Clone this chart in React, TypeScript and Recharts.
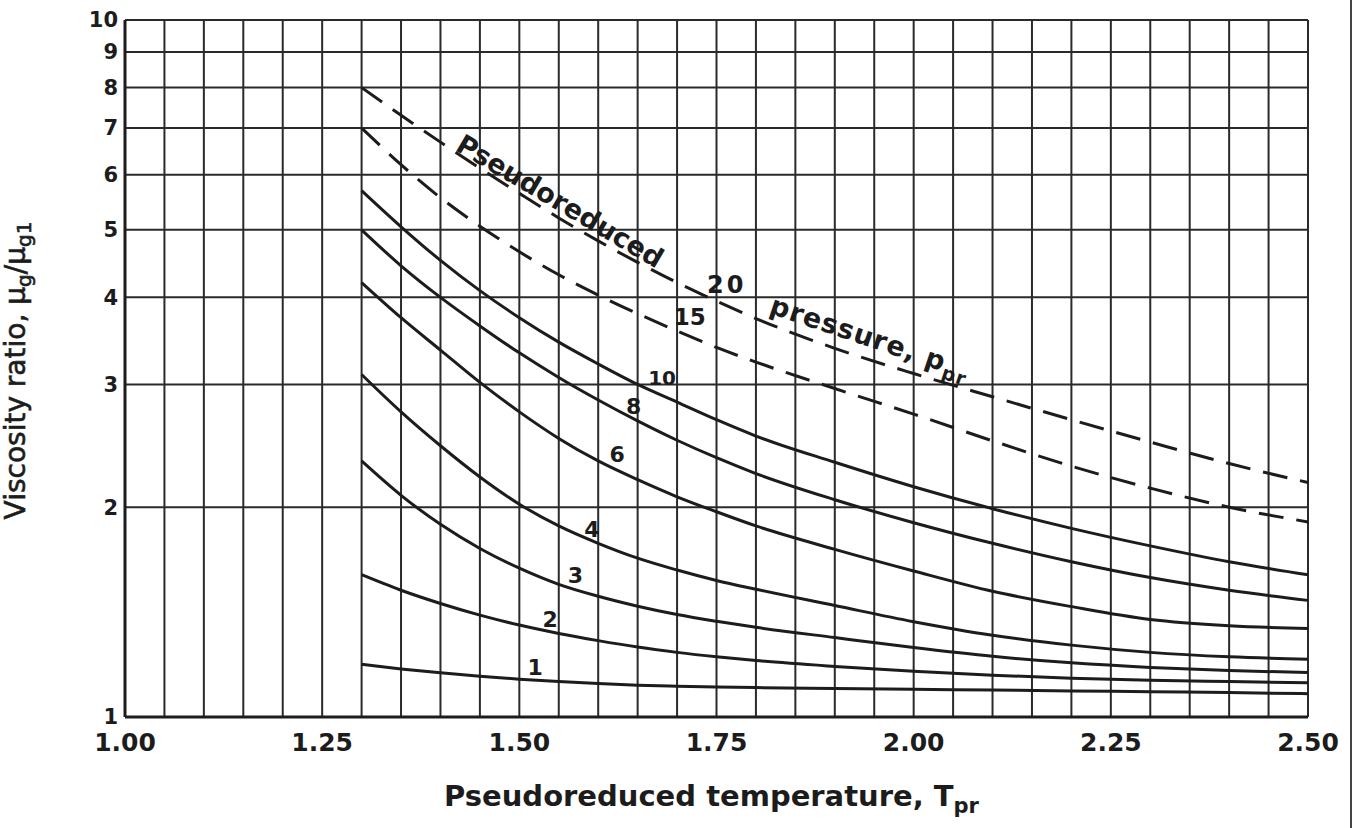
import React from 'react';
import {
  LineChart,
  Line,
  XAxis,
  YAxis,
  CartesianGrid,
  ReferenceDot,
  Label,
} from 'recharts';

const FONT = '"DejaVu Sans", "Liberation Sans", Arial, sans-serif';
const INK = '#1c1c1c';

// pseudoreduced temperature where the curves are sampled
const temps = [1.3, 1.35, 1.4, 1.45, 1.5, 1.55, 1.6, 1.65, 1.7, 1.75, 1.8, 1.9, 2.0, 2.1, 2.2, 2.3, 2.4, 2.5];

// viscosity ratio, one list per pseudoreduced pressure
const p1 = [1.19, 1.172, 1.157, 1.144, 1.133, 1.124, 1.117, 1.111, 1.107, 1.104, 1.102, 1.099, 1.096, 1.093, 1.09, 1.087, 1.084, 1.08];
const p2 = [1.6, 1.52, 1.455, 1.4, 1.355, 1.318, 1.287, 1.26, 1.238, 1.22, 1.205, 1.182, 1.163, 1.148, 1.137, 1.129, 1.124, 1.12];
const p3 = [2.33, 2.08, 1.89, 1.745, 1.635, 1.55, 1.49, 1.442, 1.403, 1.372, 1.345, 1.3, 1.258, 1.222, 1.196, 1.178, 1.166, 1.158];
const p4 = [3.1, 2.74, 2.45, 2.21, 2.02, 1.88, 1.775, 1.69, 1.625, 1.57, 1.525, 1.445, 1.37, 1.31, 1.268, 1.238, 1.22, 1.21];
const p6 = [4.2, 3.74, 3.36, 3.02, 2.74, 2.51, 2.33, 2.19, 2.07, 1.97, 1.88, 1.74, 1.62, 1.515, 1.44, 1.38, 1.352, 1.34];
const p8 = [5.0, 4.44, 4.0, 3.64, 3.33, 3.07, 2.85, 2.66, 2.495, 2.355, 2.235, 2.05, 1.9, 1.775, 1.67, 1.585, 1.52, 1.47];
const p10 = [5.69, 5.05, 4.52, 4.09, 3.74, 3.45, 3.21, 3.0, 2.83, 2.67, 2.53, 2.32, 2.14, 1.99, 1.865, 1.76, 1.67, 1.6];
const p15 = [7.0, 6.2, 5.56, 5.06, 4.65, 4.31, 4.03, 3.79, 3.58, 3.39, 3.23, 2.96, 2.72, 2.49, 2.29, 2.13, 2.0, 1.905];
const p20 = [8.0, 7.3, 6.68, 6.13, 5.64, 5.2, 4.82, 4.49, 4.2, 3.95, 3.73, 3.38, 3.11, 2.88, 2.67, 2.48, 2.31, 2.17];

const solidKeys = ['p1', 'p2', 'p3', 'p4', 'p6', 'p8', 'p10'];
const dashedKeys = ['p15', 'p20'];

// grid lines every 0.05, labels every 0.25
const xTicks = [
  1.0, 1.05, 1.1, 1.15, 1.2, 1.25, 1.3, 1.35, 1.4, 1.45, 1.5, 1.55, 1.6, 1.65, 1.7, 1.75,
  1.8, 1.85, 1.9, 1.95, 2.0, 2.05, 2.1, 2.15, 2.2, 2.25, 2.3, 2.35, 2.4, 2.45, 2.5,
];
const xLabels = ['1.00', '1.25', '1.50', '1.75', '2.00', '2.25', '2.50'];
const yTicks = [1, 2, 3, 4, 5, 6, 7, 8, 9, 10];

// curve numbers, placed in data space
const curveLabels = [
  { t: 1.52, v: 1.18, text: '1', size: 22 },
  { t: 1.539, v: 1.38, text: '2', size: 22 },
  { t: 1.571, v: 1.6, text: '3', size: 22 },
  { t: 1.592, v: 1.86, text: '4', size: 22 },
  { t: 1.624, v: 2.38, text: '6', size: 22 },
  { t: 1.645, v: 2.79, text: '8', size: 22 },
  { t: 1.681, v: 3.07, text: '10', size: 20 },
  { t: 1.716, v: 3.75, text: '15', size: 23 },
  { t: 1.763, v: 4.18, text: '20', size: 24 },
];

const data = temps.map((t, i) => ({
  t,
  p1: p1[i],
  p2: p2[i],
  p3: p3[i],
  p4: p4[i],
  p6: p6[i],
  p8: p8[i],
  p10: p10[i],
  p15: p15[i],
  p20: p20[i],
}));

const centre = (vb: any) => ({ x: vb.x + vb.width / 2, y: vb.y + vb.height / 2 });

function NumberLabel({ viewBox, text, size }: any) {
  const c = centre(viewBox);
  return (
    <text
      x={c.x}
      y={c.y}
      dy="0.36em"
      textAnchor="middle"
      fontFamily={FONT}
      fontWeight="bold"
      fontSize={size}
      letterSpacing={text === '20' ? 3 : 0}
      fill={INK}
    >
      {text}
    </text>
  );
}

function PseudoLabel({ viewBox }: any) {
  const c = centre(viewBox);
  return (
    <text
      x={c.x}
      y={c.y}
      dy="0.36em"
      textAnchor="middle"
      fontFamily={FONT}
      fontWeight="bold"
      fontSize={27}
      fill={INK}
      transform={`rotate(30.5 ${c.x} ${c.y})`}
    >
      Pseudoreduced
    </text>
  );
}

function PressureLabel({ viewBox }: any) {
  const c = centre(viewBox);
  return (
    <text
      x={c.x}
      y={c.y}
      dy="0.36em"
      textAnchor="middle"
      fontFamily={FONT}
      fontWeight="bold"
      fontSize={27}
      letterSpacing={1}
      fill={INK}
      transform={`rotate(18.5 ${c.x} ${c.y})`}
    >
      pressure, p
      <tspan fontSize={19} dy={7}>pr</tspan>
    </text>
  );
}

function XTitle({ viewBox }: any) {
  const x = viewBox.x + viewBox.width / 2 - 5;
  const y = viewBox.y + 89;
  return (
    <text x={x} y={y} textAnchor="middle" fontFamily={FONT} fontWeight="bold" fontSize={29} fill={INK}>
      Pseudoreduced temperature, T
      <tspan fontSize={21} dy={7}>pr</tspan>
    </text>
  );
}

function YTitle({ viewBox }: any) {
  const x = 25;
  const y = viewBox.y + viewBox.height / 2 + 2;
  return (
    <text
      x={x}
      y={y}
      textAnchor="middle"
      fontFamily={FONT}
      fontSize={28}
      fill={INK}
      stroke={INK}
      strokeWidth={0.6}
      transform={`rotate(-90 ${x} ${y})`}
    >
      Viscosity ratio, μ
      <tspan fontSize={20} dy={6}>g</tspan>
      <tspan dy={-6}>/μ</tspan>
      <tspan fontSize={20} dy={6}>g1</tspan>
    </text>
  );
}

const xFormat = (v: number) => {
  const s = v.toFixed(2);
  return xLabels.includes(s) ? s : '';
};

export default function App() {
  return (
    <div style={{ position: 'absolute', left: 0, top: 0, width: 1359, height: 828, background: '#fff' }}>
      <LineChart
        width={1359}
        height={828}
        data={data}
        margin={{ top: 20, right: 51, bottom: 0, left: 0 }}
      >
        <CartesianGrid stroke="#2a2a2a" strokeWidth={2} horizontalValues={yTicks} verticalValues={xTicks} />
        <XAxis
          dataKey="t"
          type="number"
          domain={[1, 2.5]}
          ticks={xTicks}
          interval={0}
          tickFormatter={xFormat}
          height={111}
          tickSize={0}
          tickMargin={16}
          axisLine={{ stroke: INK, strokeWidth: 3 }}
          tick={{ fontFamily: FONT, fontWeight: 'bold', fontSize: 25, fill: INK }}
        >
          <Label content={<XTitle />} />
        </XAxis>
        <YAxis
          type="number"
          scale="log"
          domain={[1, 10]}
          ticks={yTicks}
          interval={0}
          allowDataOverflow
          width={125}
          tickSize={0}
          tickMargin={7}
          axisLine={{ stroke: INK, strokeWidth: 3 }}
          tick={{ fontFamily: FONT, fontWeight: 'bold', fontSize: 21, fill: INK }}
        >
          <Label content={<YTitle />} />
        </YAxis>
        {solidKeys.map((k) => (
          <Line
            key={k}
            dataKey={k}
            type="monotone"
            stroke={INK}
            strokeWidth={3}
            dot={false}
            isAnimationActive={false}
          />
        ))}
        {dashedKeys.map((k) => (
          <Line
            key={k}
            dataKey={k}
            type="monotone"
            stroke={INK}
            strokeWidth={3}
            strokeDasharray="25 13"
            dot={false}
            isAnimationActive={false}
          />
        ))}
        {curveLabels.map((l) => (
          <ReferenceDot
            key={l.text}
            x={l.t}
            y={l.v}
            r={1}
            fill="none"
            stroke="none"
            label={<NumberLabel text={l.text} size={l.size} />}
          />
        ))}
        <ReferenceDot x={1.552} y={5.5} r={1} fill="none" stroke="none" label={<PseudoLabel />} />
        <ReferenceDot x={1.945} y={3.51} r={1} fill="none" stroke="none" label={<PressureLabel />} />
      </LineChart>
      <div style={{ position: 'absolute', left: 1350, top: 0, width: 2, height: 828, background: '#444' }} />
    </div>
  );
}
